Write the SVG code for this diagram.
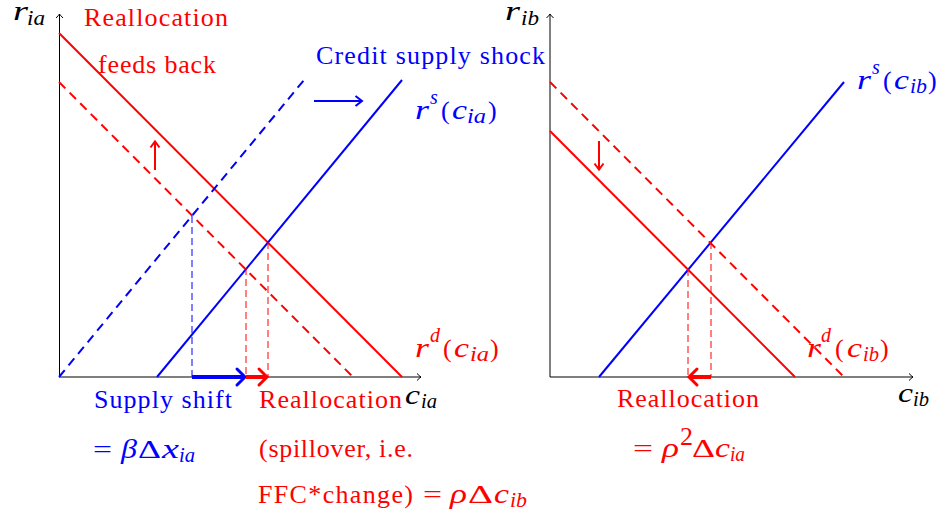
<svg xmlns="http://www.w3.org/2000/svg" width="940" height="515" viewBox="0 0 940 515">
<defs>
<style>
.t{font-family:"Liberation Serif","Times New Roman",serif;font-size:26px}
.m{font-family:"Liberation Serif","Times New Roman",serif;font-size:27px;font-style:italic}
.s{font-family:"Liberation Serif","Times New Roman",serif;font-size:20px;font-style:italic}
.u{font-family:"Liberation Serif","Times New Roman",serif;font-size:26px}
.r{fill:#ff0000}.b{fill:#0000ff}.k{fill:#000}
.ax{stroke:#000;stroke-width:1;fill:none}
.rl{stroke:#ff0000;stroke-width:2;fill:none}
.bl{stroke:#0000ff;stroke-width:2;fill:none}
.dash{stroke-dasharray:9 6}
.thin{stroke-width:1;stroke-dasharray:7 4}
.thick{stroke-width:4}
.head{stroke-width:3;stroke-linejoin:miter;stroke-linecap:round}
</style>
<marker id="axh" markerUnits="userSpaceOnUse" viewBox="-6 -5 7 10" markerWidth="7" markerHeight="10" refX="0" refY="0" orient="auto">
<path d="M-4,-3.5 Q-1.5,-1 0,0 Q-1.5,1 -4,3.5" fill="none" stroke="#000" stroke-width="1"/>
</marker>
</defs>
<rect width="940" height="515" fill="#fff"/>

<g id="axes">
<path class="ax" d="M59.5,377 V14" marker-end="url(#axh)"/>
<path class="ax" d="M59,377 H421" marker-end="url(#axh)"/>
<path class="ax" d="M550,377 V14" marker-end="url(#axh)"/>
<path class="ax" d="M550,377 H913" marker-end="url(#axh)"/>
</g>

<g id="left-curves">
<path id="rd-ia" class="rl" d="M59,33 L402,377"/>
<path id="rd-ia-old" class="rl dash" d="M59,82 L353,377"/>
<path id="rs-ia-old" class="bl dash" d="M59,377 L304,80"/>
<path id="rs-ia" class="bl" d="M157,377 L402,80"/>
</g>

<g id="right-curves">
<path id="rs-ib" class="bl" d="M599,377 L844,82"/>
<path id="rd-ib" class="rl" d="M550,131 L795,377"/>
<path id="rd-ib-old" class="rl dash" d="M550,82 L844,377"/>
</g>

<g id="connectors">
<path class="bl thin" d="M192,216 V377"/>
<path class="rl thin" d="M246,268 V377"/>
<path class="rl thin" d="M268,242 V377"/>
<path class="rl thin" d="M688,269 V377"/>
<path class="rl thin" d="M711,242 V377"/>

<path class="bl thick" d="M192,377 H243"/>
<path class="bl head" d="M237,369 L245,377 L237,385"/>
<path class="rl thick" d="M246,377 H265"/>
<path class="rl head" d="M259,369 L267,377 L259,385"/>
<path class="rl thick" d="M711,377 H691"/>
<path class="rl head" d="M697,369 L689,377 L697,385"/>

<path class="rl" d="M155,170 V142"/>
<path class="rl" d="M150.5,147.5 L155,141.5 L159.5,147.5" stroke-width="1.8"/>
<path class="rl" d="M599,141 V169"/>
<path class="rl" d="M594.5,163.5 L599,169.5 L603.5,163.5" stroke-width="1.8"/>
<path class="bl" d="M314,101 H361"/>
<path class="bl" d="M355.5,96 L362,101 L355.5,106" stroke-width="1.8"/>
</g>

<g id="axis-labels">
<text class="m k" x="13" y="20" textLength="15" lengthAdjust="spacingAndGlyphs">r</text><text class="s k" x="27" y="25" textLength="18" lengthAdjust="spacingAndGlyphs">ia</text>
<text class="m k" x="505" y="20" textLength="15" lengthAdjust="spacingAndGlyphs">r</text><text class="s k" x="521" y="25" textLength="18" lengthAdjust="spacingAndGlyphs">ib</text>
<text class="m k" x="405" y="404" textLength="15" lengthAdjust="spacingAndGlyphs">c</text><text class="s k" x="421" y="408" textLength="16" lengthAdjust="spacingAndGlyphs">ia</text>
<text class="m k" x="898" y="402" textLength="15" lengthAdjust="spacingAndGlyphs">c</text><text class="s k" x="913" y="406" textLength="16" lengthAdjust="spacingAndGlyphs">ib</text>
</g>

<g id="curve-labels">
<g id="lbl-rs-ia" class="b">
<text class="m" x="415" y="119" textLength="14" lengthAdjust="spacingAndGlyphs">r</text><text class="s" x="430" y="104">s</text><text class="u" x="441" y="119">(</text><text class="m" x="452" y="119" textLength="15" lengthAdjust="spacingAndGlyphs">c</text><text class="s" x="467" y="123" textLength="19" lengthAdjust="spacingAndGlyphs">ia</text><text class="u" x="488" y="119">)</text>
</g>
<g id="lbl-rs-ib" class="b">
<text class="m" x="857" y="89" textLength="14" lengthAdjust="spacingAndGlyphs">r</text><text class="s" x="872" y="74">s</text><text class="u" x="883" y="89">(</text><text class="m" x="894" y="89" textLength="15" lengthAdjust="spacingAndGlyphs">c</text><text class="s" x="910" y="93" textLength="17" lengthAdjust="spacingAndGlyphs">ib</text><text class="u" x="928" y="89">)</text>
</g>
<g id="lbl-rd-ia" class="r">
<text class="m" x="415" y="357" textLength="14" lengthAdjust="spacingAndGlyphs">r</text><text class="s" x="430" y="342">d</text><text class="u" x="443" y="357">(</text><text class="m" x="454" y="357" textLength="15" lengthAdjust="spacingAndGlyphs">c</text><text class="s" x="470" y="361" textLength="19" lengthAdjust="spacingAndGlyphs">ia</text><text class="u" x="490" y="357">)</text>
</g>
<g id="lbl-rd-ib" class="r">
<text class="m" x="807" y="357" textLength="14" lengthAdjust="spacingAndGlyphs">r</text><text class="s" x="821" y="342">d</text><text class="u" x="835" y="357">(</text><text class="m" x="847" y="357" textLength="15" lengthAdjust="spacingAndGlyphs">c</text><text class="s" x="863" y="361" textLength="16" lengthAdjust="spacingAndGlyphs">ib</text><text class="u" x="880" y="357">)</text>
</g>
</g>

<g id="annotations">
<text class="t r" x="84" y="26" textLength="144">Reallocation</text>
<text class="t r" x="98" y="73" textLength="118">feeds back</text>
<text class="t b" x="316" y="64" textLength="229">Credit supply shock</text>

<text class="t b" x="94" y="408" textLength="138">Supply shift</text>
<g class="b">
<text class="u" x="93" y="458" textLength="19" lengthAdjust="spacingAndGlyphs">=</text>
<text class="m" x="121" y="458" textLength="16" lengthAdjust="spacingAndGlyphs">β</text>
<text class="u" x="138" y="458" textLength="23" lengthAdjust="spacingAndGlyphs">Δ</text>
<text class="m" x="162" y="458" textLength="17" lengthAdjust="spacingAndGlyphs">x</text>
<text class="s" x="179" y="462" textLength="16" lengthAdjust="spacingAndGlyphs">ia</text>
</g>

<text class="t r" x="259" y="408" textLength="143">Reallocation</text>
<text class="t r" x="259" y="457" textLength="154">(spillover, i.e.</text>
<g class="r">
<text class="u" x="258" y="503" textLength="155">FFC*change)</text>
<text class="u" x="423" y="503" textLength="19" lengthAdjust="spacingAndGlyphs">=</text>
<text class="m" x="450" y="503" textLength="17" lengthAdjust="spacingAndGlyphs">ρ</text>
<text class="u" x="468" y="503" textLength="25" lengthAdjust="spacingAndGlyphs">Δ</text>
<text class="m" x="494" y="503" textLength="15" lengthAdjust="spacingAndGlyphs">c</text>
<text class="s" x="510" y="507" textLength="17" lengthAdjust="spacingAndGlyphs">ib</text>
</g>

<text class="t r" x="617" y="407" textLength="142">Reallocation</text>
<g class="r">
<text class="u" x="633" y="457" textLength="20" lengthAdjust="spacingAndGlyphs">=</text>
<text class="m" x="662" y="457" textLength="17" lengthAdjust="spacingAndGlyphs">ρ</text>
<text class="u" x="680" y="445" font-size="18px">2</text>
<text class="u" x="692" y="457" textLength="23" lengthAdjust="spacingAndGlyphs">Δ</text>
<text class="m" x="715" y="457" textLength="15" lengthAdjust="spacingAndGlyphs">c</text>
<text class="s" x="730" y="461" textLength="15" lengthAdjust="spacingAndGlyphs">ia</text>
</g>
</g>
</svg>
